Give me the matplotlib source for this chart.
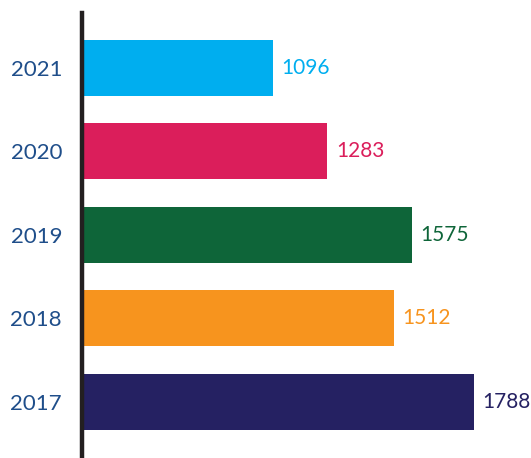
import matplotlib
matplotlib.use("Agg")
from matplotlib import pyplot as plt

# data, bottom to top
years = ["2017", "2018", "2019", "2020", "2021"]
counts = [1788, 1512, 1575, 1283, 1096]
colors = ["#252162", "#f7941e", "#0e6539", "#db1e5b", "#00aeef"]

plt.rcParams["font.family"] = ["Lato", "DejaVu Sans"]

W, H = 531, 458
fig = plt.figure(figsize=(W / 100, H / 100), dpi=100)
ax = fig.add_axes([81.5 / W, 0, (W - 81.5) / W, (H - 13) / H])

pos = list(range(len(years)))
ax.barh(pos, counts, height=0.67, color=colors, zorder=1)

for p, c, col in zip(pos, counts, colors):
    ax.annotate(str(c), xy=(c, p), xytext=(6, 0), textcoords="offset points",
                ha="left", va="center", fontsize=15, color=col)

# axis does not start at zero in the original graphic
ax.set_xlim(436, 1984)
ax.set_ylim(-0.67, 4.652)
ax.set_xticks([])
ax.set_yticks(pos)
ax.set_yticklabels(years, fontsize=16, color="#1f4e8a")
ax.tick_params(axis="y", length=0, pad=14)

for side in ("top", "right", "bottom"):
    ax.spines[side].set_visible(False)
ax.spines["left"].set_linewidth(3.2)
ax.spines["left"].set_color("#231f20")
ax.spines["left"].set_zorder(3)

fig.savefig("out.png", dpi=100)
